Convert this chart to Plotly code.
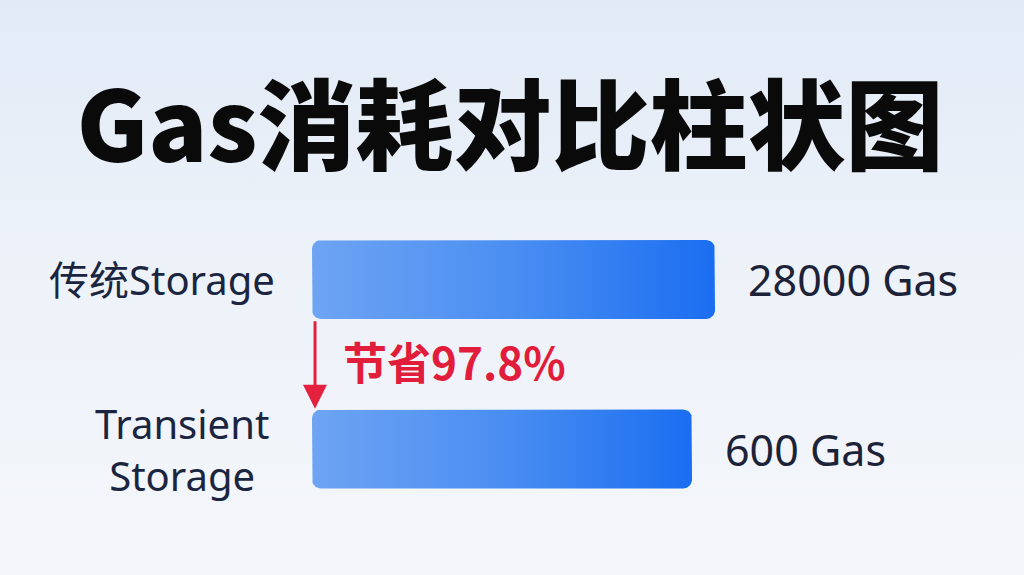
import numpy as np
import plotly.graph_objects as go

# ---- data ----
categories = ["传统Storage", "Transient<br>Storage"]
gas_values = [28000, 600]
# bar lengths as drawn in the picture (relative, longest = 100)
bar_display = [100, 94.3]
title_text = "Gas消耗对比柱状图"

saving = np.floor((gas_values[0] - gas_values[1]) / gas_values[0] * 1000) / 10
saving_text = f"节省{saving:.1f}%"

# ---- layout constants ----
W, H = 1024, 575
px_per_x = 4.03          # pixels per x unit
px_per_y = 169.5         # pixels per category step
x0_px = 312              # pixel of x = 0
ybot_px = 449            # pixel of category index 0
half_h = 0.233           # half bar thickness (category units)
radius_px = 9
label_shift = [-35, -41]

x_range = [-x0_px / px_per_x, (W - x0_px) / px_per_x]
y_range = [-(H - ybot_px) / px_per_y, ybot_px / px_per_y]

ypos = [1, 0]  # top, bottom

fig = go.Figure()

# background gradient (covers the full plotting range, drawn first)
fig.add_trace(go.Scatter(
    x=[x_range[0], x_range[1], x_range[1], x_range[0], x_range[0]],
    y=[y_range[0], y_range[0], y_range[1], y_range[1], y_range[0]],
    mode="lines", line=dict(width=0), fill="toself",
    fillgradient=dict(type="vertical",
                      colorscale=[[0, "#f4f6fa"], [0.55, "#edf2f9"], [1, "#e1eaf6"]]),
    hoverinfo="skip", showlegend=False))


def rounded_rect(x_end, yc):
    rx = radius_px / px_per_x
    ry = radius_px / px_per_y
    x_a, x_b = 0, x_end
    y_a, y_b = yc - half_h, yc + half_h
    corners = [
        (x_b - rx, y_a + ry, -np.pi / 2, 0),
        (x_b - rx, y_b - ry, 0, np.pi / 2),
        (x_a + rx, y_b - ry, np.pi / 2, np.pi),
        (x_a + rx, y_a + ry, np.pi, 1.5 * np.pi),
    ]
    xs, ys = [], []
    for cx, cy, t0, t1 in corners:
        t = np.linspace(t0, t1, 10)
        xs.extend(cx + rx * np.cos(t))
        ys.extend(cy + ry * np.sin(t))
    xs.append(xs[0])
    ys.append(ys[0])
    return xs, ys


for length, yc in zip(bar_display, ypos):
    xs, ys = rounded_rect(length, yc)
    fig.add_trace(go.Scatter(
        x=xs, y=ys, mode="lines", line=dict(width=0), fill="toself",
        fillgradient=dict(type="horizontal",
                          colorscale=[[0, "#6ea4f2"], [0.5, "#4a8ef2"], [1, "#1b6ef1"]]),
        hoverinfo="skip", showlegend=False))

annotations = []
# category labels
for cat, yc, sh in zip(categories, ypos, label_shift):
    annotations.append(dict(
        x=0, y=yc, xref="x", yref="y", text=cat, showarrow=False,
        xanchor="right", yanchor="middle", align="center", xshift=sh,
        font=dict(family="Noto Sans, Noto Sans CJK SC", size=40, color="#1b2540")))
# value labels
for val, length, yc in zip(gas_values, bar_display, ypos):
    annotations.append(dict(
        x=length, y=yc, xref="x", yref="y", text=f"{val} Gas", showarrow=False,
        xanchor="left", yanchor="middle", xshift=31, yshift=0,
        font=dict(family="Noto Sans, Noto Sans CJK SC", size=43, color="#1c2238")))
# saving arrow
annotations.append(dict(
    x=0.75, y=ypos[1] + half_h + 0.005, ax=0.75, ay=ypos[0] - half_h - 0.005,
    xref="x", yref="y", axref="x", ayref="y", text="", showarrow=True,
    arrowhead=2, arrowsize=1.6, arrowwidth=3, arrowcolor="#e3213f"))
# saving text
annotations.append(dict(
    x=0, y=0.5, xref="x", yref="y", text=saving_text, showarrow=False,
    xanchor="left", yanchor="middle", xshift=29, yshift=3,
    font=dict(family="Noto Sans CJK SC", size=44, color="#e11d3b", weight=700)))

fig.update_layout(
    width=W, height=H, autosize=False,
    margin=dict(l=0, r=0, t=0, b=0),
    paper_bgcolor="#eef3f9", plot_bgcolor="rgba(0,0,0,0)",
    title=dict(text=title_text, x=510 / W, y=1 - 128 / H, xanchor="center", yanchor="middle",
               font=dict(family="Noto Sans CJK SC", size=98, color="#0a0a0a", weight=900)),
    xaxis=dict(range=x_range, visible=False, fixedrange=True),
    yaxis=dict(range=y_range, visible=False, fixedrange=True),
    annotations=annotations,
    showlegend=False,
)

fig.write_html("out.html", config={"displayModeBar": False},
               post_script="document.body.style.margin='0';")
